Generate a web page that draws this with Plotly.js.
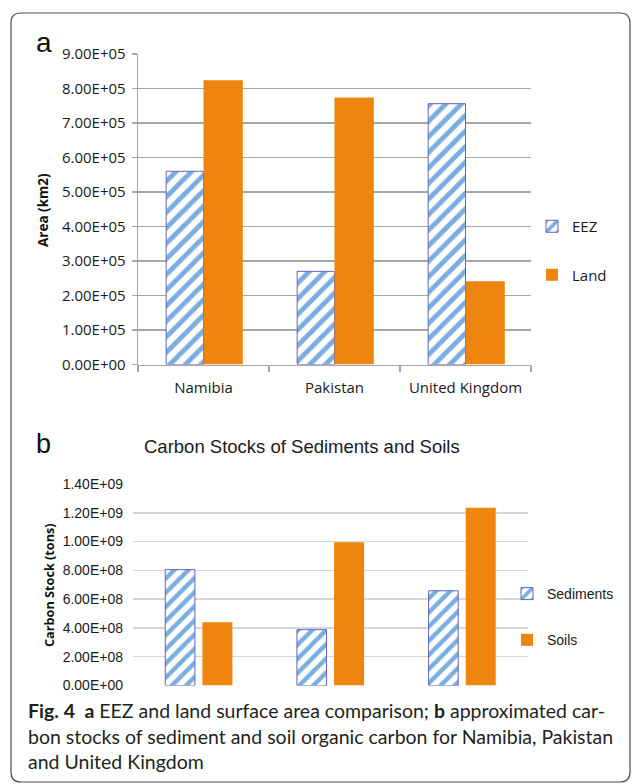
<!DOCTYPE html>
<html>
<head>
<meta charset="utf-8">
<script src="https://cdn.plot.ly/plotly-3.0.1.min.js"></script>
<style>
  html, body { margin: 0; padding: 0; background: #ffffff; }
  #chart { width: 632px; height: 784px; }
</style>
</head>
<body>
<div id="chart"></div>
<script>
// ---------- data ----------
const countries = ["Namibia", "Pakistan", "United Kingdom"];

// panel a: area (km2)
const eezArea  = [5.60e5, 2.70e5, 7.56e5];
const landArea = [8.24e5, 7.74e5, 2.41e5];
const areaTickVals = [0, 1e5, 2e5, 3e5, 4e5, 5e5, 6e5, 7e5, 8e5, 9e5];
const areaTickText = ["0.00E+00", "1.00E+05", "2.00E+05", "3.00E+05", "4.00E+05",
                      "5.00E+05", "6.00E+05", "7.00E+05", "8.00E+05", "9.00E+05"];

// panel b: carbon stock (tons)
const sedimentStock = [8.05e8, 3.88e8, 6.58e8];
const soilStock     = [4.40e8, 9.95e8, 1.235e9];
const stockTickVals = [0, 2e8, 4e8, 6e8, 8e8, 1.0e9, 1.2e9, 1.4e9];
const stockTickText = ["0.00E+00", "2.00E+08", "4.00E+08", "6.00E+08",
                       "8.00E+08", "1.00E+09", "1.20E+09", "1.40E+09"];

// ---------- helpers (pixel -> paper) ----------
const W = 632, H = 784;
const px = v => v / W;
const py = v => 1 - v / H;

const ORANGE = "#EE850E";
const HATCH = "#7BAEE0";
const EDGE = "#6363C4";
const fontA = "Open Sans, Noto Sans, sans-serif";
const fontB = "Liberation Sans, Arial, sans-serif";

const traces = [
  {
    type: "bar", name: "EEZ", x: countries, y: eezArea,
    xaxis: "x", yaxis: "y", legend: "legend", legendgroup: "a1",
    width: 0.285, offset: -0.285,
    marker: { color: "#ffffff", line: { color: EDGE, width: 1 },
      pattern: { shape: "/", fgcolor: HATCH, bgcolor: "#ffffff", size: 11, solidity: 0.45 } },
    hoverinfo: "skip"
  },
  {
    type: "bar", name: "Land", x: countries, y: landArea,
    xaxis: "x", yaxis: "y", legend: "legend", legendgroup: "a2",
    width: 0.30, offset: 0,
    marker: { color: ORANGE, line: { width: 0 } },
    hoverinfo: "skip"
  },
  {
    type: "bar", name: "Sediments", x: countries, y: sedimentStock,
    xaxis: "x2", yaxis: "y2", legend: "legend2", legendgroup: "b1",
    width: 0.225, offset: -0.255,
    marker: { color: "#ffffff", line: { color: EDGE, width: 1 },
      pattern: { shape: "/", fgcolor: HATCH, bgcolor: "#ffffff", size: 10, solidity: 0.45 } },
    hoverinfo: "skip"
  },
  {
    type: "bar", name: "Soils", x: countries, y: soilStock,
    xaxis: "x2", yaxis: "y2", legend: "legend2", legendgroup: "b2",
    width: 0.228, offset: 0.027,
    marker: { color: ORANGE, line: { width: 0 } },
    hoverinfo: "skip"
  }
];

// rounded frame
const fx0 = px(11), fx1 = px(630), fyt = py(13), fyb = py(782);
const rx = 10 / W, ry = 10 / H;
const framePath =
  `M ${fx0 + rx},${fyt} L ${fx1 - rx},${fyt} Q ${fx1},${fyt} ${fx1},${fyt - ry} ` +
  `L ${fx1},${fyb + ry} Q ${fx1},${fyb} ${fx1 - rx},${fyb} ` +
  `L ${fx0 + rx},${fyb} Q ${fx0},${fyb} ${fx0},${fyb + ry} ` +
  `L ${fx0},${fyt - ry} Q ${fx0},${fyt} ${fx0 + rx},${fyt} Z`;

const capFont = { family: "Lato, sans-serif", size: 19.5, color: "#231f20" };

const layout = {
  width: W, height: H,
  margin: { l: 0, r: 0, t: 0, b: 0, pad: 0 },
  paper_bgcolor: "#ffffff", plot_bgcolor: "rgba(0,0,0,0)",
  barmode: "overlay",
  showlegend: true,
  xaxis: {
    domain: [px(138), px(531)], anchor: "y", type: "category",
    range: [-0.5, 2.5],
    showline: true, linecolor: "#a6a6a6", linewidth: 1.3,
    ticks: "outside", tickson: "boundaries", ticklen: 6, tickcolor: "#a6a6a6", tickwidth: 1.3,
    showgrid: false, zeroline: false, ticklabelstandoff: 9,
    tickfont: { family: fontA, size: 15, color: "#1a1a1a" }
  },
  yaxis: {
    domain: [py(364.5), py(54)], anchor: "x",
    range: [0, 9e5], tickmode: "array", tickvals: areaTickVals, ticktext: areaTickText,
    showline: true, linecolor: "#a6a6a6", linewidth: 1.3,
    ticks: "outside", ticklen: 5, tickcolor: "#a6a6a6", tickwidth: 1.3,
    showgrid: true, gridcolor: "#a6a6a6", gridwidth: 1.3, zeroline: false,
    ticklabelstandoff: 3,
    tickfont: { family: fontA, size: 15, color: "#1a1a1a" }
  },
  xaxis2: {
    domain: [px(133), px(528)], anchor: "y2", type: "category",
    range: [-0.5, 2.5],
    showline: false, ticks: "", showticklabels: false, showgrid: false, zeroline: false
  },
  yaxis2: {
    domain: [py(685.5), py(484)], anchor: "x2",
    range: [0, 1.4e9], tickmode: "array", tickvals: stockTickVals, ticktext: stockTickText,
    showline: false, ticks: "",
    showgrid: true, gridcolor: "#d6d6d6", gridwidth: 1.5, zeroline: false,
    ticklabelstandoff: 9,
    tickfont: { family: fontB, size: 14, color: "#1a1a1a" }
  },
  legend: {
    x: px(532), y: py(210), xanchor: "left", yanchor: "top",
    bgcolor: "rgba(0,0,0,0)", tracegroupgap: 26, itemclick: false,
    font: { family: fontA, size: 15, color: "#1a1a1a" }
  },
  legend2: {
    x: px(507), y: py(578), xanchor: "left", yanchor: "top",
    bgcolor: "rgba(0,0,0,0)", tracegroupgap: 25, itemclick: false,
    font: { family: fontB, size: 14, color: "#1a1a1a" }
  },
  shapes: [
    { type: "path", xref: "paper", yref: "paper", path: framePath,
      line: { color: "#4d4d4d", width: 1.2 }, fillcolor: "rgba(0,0,0,0)" }
  ],
  annotations: [
    { text: "a", xref: "paper", yref: "paper", x: px(34), y: py(43),
      xanchor: "left", yanchor: "middle", showarrow: false,
      font: { family: fontB, size: 28, color: "#111" } },
    { text: "b", xref: "paper", yref: "paper", x: px(34), y: py(444),
      xanchor: "left", yanchor: "middle", showarrow: false,
      font: { family: fontB, size: 27, color: "#111" } },
    { text: "Carbon Stocks of Sediments and Soils", xref: "paper", yref: "paper",
      x: px(302), y: py(446), xanchor: "center", yanchor: "middle", showarrow: false,
      font: { family: fontB, size: 18.5, color: "#1a1a1a" } },
    { text: "<b>Area (km2)</b>", xref: "paper", yref: "paper", x: px(43), y: py(210),
      xanchor: "center", yanchor: "middle", textangle: -90, showarrow: false,
      font: { family: fontA, size: 13.5, color: "#111" } },
    { text: "<b>Carbon Stock (tons)</b>", xref: "paper", yref: "paper", x: px(49), y: py(585),
      xanchor: "center", yanchor: "middle", textangle: -90, showarrow: false,
      font: { family: fontA, size: 12.7, color: "#111" } },
    { text: "<b>Fig. 4\u00a0 a</b> EEZ and land surface area comparison; <b>b</b> approximated car-",
      xref: "paper", yref: "paper", x: px(26), y: py(710), xanchor: "left", yanchor: "middle",
      showarrow: false, font: capFont },
    { text: "bon stocks of sediment and soil organic carbon for Namibia, Pakistan",
      xref: "paper", yref: "paper", x: px(26), y: py(736), xanchor: "left", yanchor: "middle",
      showarrow: false, font: capFont },
    { text: "and United Kingdom",
      xref: "paper", yref: "paper", x: px(26), y: py(761), xanchor: "left", yanchor: "middle",
      showarrow: false, font: capFont }
  ]
};

Plotly.newPlot("chart", traces, layout, { displayModeBar: false, staticPlot: true });
</script>
</body>
</html>
